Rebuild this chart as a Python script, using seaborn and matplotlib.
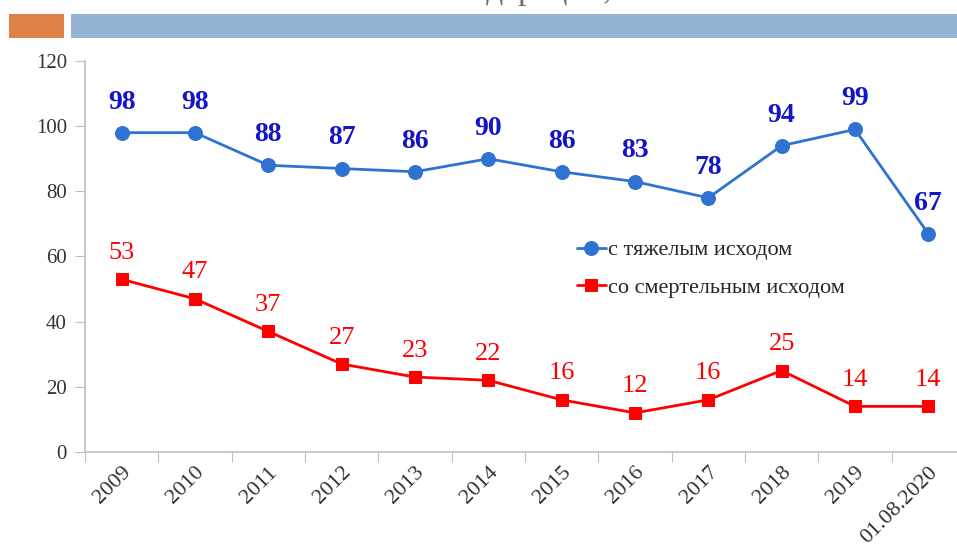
import numpy as np
import pandas as pd
import matplotlib
matplotlib.use('Agg')
import matplotlib.pyplot as plt
from matplotlib.patches import Rectangle
from matplotlib.transforms import ScaledTranslation
import seaborn as sns

# --- données ---
categories = ['2009', '2010', '2011', '2012', '2013', '2014', '2015', '2016',
              '2017', '2018', '2019', '01.08.2020']
tyazhelye = [98, 98, 88, 87, 86, 90, 86, 83, 78, 94, 99, 67]
smertelnye = [53, 47, 37, 27, 23, 22, 16, 12, 16, 25, 14, 14]
label_tyazh = 'с тяжелым исходом'
label_smert = 'со смертельным исходом'
titre = 'в Российской Федерации, человек'

sns.set_style('white')
plt.rcParams['font.family'] = ['Liberation Serif', 'DejaVu Serif']

pos = np.arange(len(categories))
df = pd.DataFrame({'pos': pos, 'tyazh': tyazhelye, 'smert': smertelnye})

fig = plt.figure(figsize=(9.57, 5.51), dpi=100)
ax = fig.add_axes([0.0888, 0.1797, 0.9195, 0.7096])

blue_line = '#2F72D2'
blue_text = '#1414C8'
red = '#FF0000'

sns.lineplot(data=df, x='pos', y='tyazh', ax=ax, color=blue_line, marker='o',
             markersize=10, markeredgecolor=blue_line, linewidth=2, label=label_tyazh)
sns.lineplot(data=df, x='pos', y='smert', ax=ax, color=red, marker='s',
             markersize=9, markeredgecolor=red, linewidth=2, label=label_smert)

# étiquettes de valeurs (décalage en points)
for x, v in zip(pos, tyazhelye):
    ax.annotate(str(v), (x, v), xytext=(0, 22), textcoords='offset points',
                ha='center', va='center', fontsize=20, fontweight='bold', color=blue_text)
for x, v in zip(pos, smertelnye):
    ax.annotate(str(v), (x, v), xytext=(0, 19), textcoords='offset points',
                ha='center', va='center', fontsize=19, color=red)

ax.set_xlim(-0.5, len(categories) - 0.5)
ax.set_ylim(0, 120)
ax.set_yticks(range(0, 121, 20))
ax.set_xticks(np.arange(-0.5, len(categories), 1))
ax.set_xticklabels([])
ax.set_xticks(pos, minor=True)
ax.set_xticklabels(categories, minor=True, rotation=45, ha='right',
                   rotation_mode='anchor', fontsize=16, color='#333333')
shift = ScaledTranslation(-6 / 100, 0, fig.dpi_scale_trans)
for lab in ax.get_xticklabels(minor=True):
    lab.set_transform(lab.get_transform() + shift)
ax.tick_params(axis='x', which='major', length=7, color='#BFBFBF', direction='out', bottom=True)
ax.tick_params(axis='x', which='minor', length=0, pad=8)
ax.tick_params(axis='y', length=7, color='#BFBFBF', direction='out', left=True,
               labelsize=15, labelcolor='#333333', pad=6)
ax.set_xlabel('')
ax.set_ylabel('')
for s in ['top', 'right']:
    ax.spines[s].set_visible(False)
for s in ['left', 'bottom']:
    ax.spines[s].set_color('#BFBFBF')
    ax.spines[s].set_linewidth(1.2)

ax.get_legend().remove()
h, l = ax.get_legend_handles_labels()
fig.legend(h, l, loc='upper left', bbox_to_anchor=(568 / 957, 1 - 231 / 551),
           frameon=False, fontsize=16, handlelength=1.3, handletextpad=0.1,
           labelspacing=0.75, borderaxespad=0)

# bandeau décoratif en haut
fig.patches.append(Rectangle((9 / 957, 1 - 38 / 551), 55 / 957, 24 / 551,
                             transform=fig.transFigure, facecolor='#DF8246',
                             edgecolor='none', zorder=0))
fig.patches.append(Rectangle((71 / 957, 1 - 38 / 551), 890 / 957, 24 / 551,
                             transform=fig.transFigure, facecolor='#93B5D3',
                             edgecolor='none', zorder=0))
fig.text(0.512, 1.017, titre, ha='center', va='center', fontsize=24, color='#7A6A5E')

fig.savefig('out.png', dpi=100)
